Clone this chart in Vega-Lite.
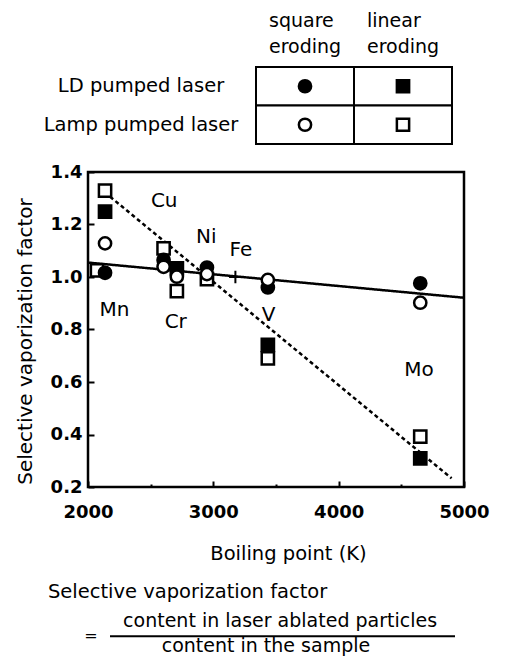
{
  "$schema": "https://vega.github.io/schema/vega-lite/v6.json",
  "width": 376,
  "height": 315,
  "autosize": {"type": "none"},
  "padding": {"left": 88, "top": 172, "right": 41, "bottom": 170},
  "background": "white",
  "config": {
    "view": {"stroke": "black", "strokeWidth": 2.5},
    "font": "DejaVu Sans",
    "text": {"font": "DejaVu Sans", "color": "black"},
    "axis": {
      "labelFont": "DejaVu Sans",
      "labelFontWeight": "bold",
      "labelFontSize": 18,
      "labelColor": "black",
      "labelFlush": false,
      "titleFont": "DejaVu Sans",
      "titleFontWeight": "normal",
      "titleFontSize": 19.5,
      "titleColor": "black",
      "domain": false,
      "grid": false,
      "tickColor": "black",
      "tickWidth": 2
    }
  },
  "datasets": {
    "measurements": [
      {"laser": "Lamp pumped laser", "erosion": "linear eroding", "boiling": 2072, "factor": 1.025},
      {"laser": "Lamp pumped laser", "erosion": "linear eroding", "boiling": 2136, "factor": 1.329},
      {"laser": "Lamp pumped laser", "erosion": "linear eroding", "boiling": 2603, "factor": 1.109},
      {"laser": "Lamp pumped laser", "erosion": "linear eroding", "boiling": 2709, "factor": 0.946},
      {"laser": "Lamp pumped laser", "erosion": "linear eroding", "boiling": 2949, "factor": 0.992},
      {"laser": "Lamp pumped laser", "erosion": "linear eroding", "boiling": 3435, "factor": 0.690},
      {"laser": "Lamp pumped laser", "erosion": "linear eroding", "boiling": 4651, "factor": 0.392},
      {"laser": "LD pumped laser", "erosion": "linear eroding", "boiling": 2136, "factor": 1.249},
      {"laser": "LD pumped laser", "erosion": "linear eroding", "boiling": 2709, "factor": 1.033},
      {"laser": "LD pumped laser", "erosion": "linear eroding", "boiling": 3435, "factor": 0.741},
      {"laser": "LD pumped laser", "erosion": "linear eroding", "boiling": 4651, "factor": 0.309},
      {"laser": "LD pumped laser", "erosion": "square eroding", "boiling": 2136, "factor": 1.016},
      {"laser": "LD pumped laser", "erosion": "square eroding", "boiling": 2603, "factor": 1.065},
      {"laser": "LD pumped laser", "erosion": "square eroding", "boiling": 2949, "factor": 1.036},
      {"laser": "LD pumped laser", "erosion": "square eroding", "boiling": 3435, "factor": 0.960},
      {"laser": "LD pumped laser", "erosion": "square eroding", "boiling": 4651, "factor": 0.976},
      {"laser": "Lamp pumped laser", "erosion": "square eroding", "boiling": 2136, "factor": 1.128},
      {"laser": "Lamp pumped laser", "erosion": "square eroding", "boiling": 2603, "factor": 1.039},
      {"laser": "Lamp pumped laser", "erosion": "square eroding", "boiling": 2709, "factor": 1.001},
      {"laser": "Lamp pumped laser", "erosion": "square eroding", "boiling": 2949, "factor": 1.011},
      {"laser": "Lamp pumped laser", "erosion": "square eroding", "boiling": 3435, "factor": 0.989},
      {"laser": "Lamp pumped laser", "erosion": "square eroding", "boiling": 4651, "factor": 0.902}
    ],
    "fits": [
      {"erosion": "square eroding", "boiling": 2000, "factor": 1.055},
      {"erosion": "square eroding", "boiling": 5000, "factor": 0.921},
      {"erosion": "linear eroding", "boiling": 2176, "factor": 1.306},
      {"erosion": "linear eroding", "boiling": 4901, "factor": 0.233}
    ],
    "reference": [
      {"element": "Fe", "boiling": 3176, "factor": 1.0}
    ],
    "elements": [
      {"element": "Cu", "boiling": 2608, "factor": 1.291},
      {"element": "Ni", "boiling": 2944, "factor": 1.154},
      {"element": "Fe", "boiling": 3220, "factor": 1.103},
      {"element": "Mn", "boiling": 2212, "factor": 0.876},
      {"element": "Cr", "boiling": 2700, "factor": 0.827},
      {"element": "V", "boiling": 3440, "factor": 0.857},
      {"element": "Mo", "boiling": 4640, "factor": 0.644}
    ],
    "legendCells": [
      {"laser": "LD pumped laser", "erosion": "square eroding"},
      {"laser": "LD pumped laser", "erosion": "linear eroding"},
      {"laser": "Lamp pumped laser", "erosion": "square eroding"},
      {"laser": "Lamp pumped laser", "erosion": "linear eroding"}
    ],
    "formula": [
      {"part": "name", "text": "Selective vaporization factor"},
      {"part": "equals", "text": "="},
      {"part": "numerator", "text": "content in laser ablated particles"},
      {"part": "denominator", "text": "content in the sample"}
    ]
  },
  "resolve": {
    "scale": {"x": "independent", "y": "independent"},
    "axis": {"x": "independent", "y": "independent"}
  },
  "layer": [
    {
      "encoding": {
        "x": {
          "field": "boiling", "type": "quantitative",
          "scale": {"domain": [2000, 5000], "nice": false, "zero": false},
          "axis": {
            "title": "Boiling point (K)",
            "values": [2000, 2500, 3000, 3500, 4000, 4500, 5000],
            "format": "d",
            "labelExpr": "datum.value % 1000 === 0 ? datum.label : ''",
            "tickSize": {"condition": {"test": "datum.value % 1000 === 0", "value": -6}, "value": -3},
            "labelPadding": 22,
            "titlePadding": 23,
            "titleX": 200
          }
        },
        "y": {
          "field": "factor", "type": "quantitative",
          "scale": {"domain": [0.2, 1.4], "nice": false, "zero": false},
          "axis": {
            "title": "Selective vaporization factor",
            "titleFontSize": 20,
            "values": [0.2, 0.4, 0.6, 0.8, 1.0, 1.2, 1.4],
            "format": ".1f",
            "tickSize": -6,
            "labelPadding": 12,
            "titlePadding": 15,
            "titleY": 169
          }
        }
      },
      "layer": [
        {
          "data": {"name": "fits"},
          "mark": {"type": "line", "color": "black", "strokeWidth": 2.5},
          "encoding": {
            "detail": {"field": "erosion"},
            "strokeDash": {
              "field": "erosion", "type": "nominal",
              "scale": {"domain": ["square eroding", "linear eroding"], "range": [[1, 0], [4, 3]]},
              "legend": null
            }
          }
        },
        {
          "data": {"name": "reference"},
          "mark": {"type": "point", "shape": "M-1,0H1M0,-1V1", "size": 160, "stroke": "black", "strokeWidth": 2, "opacity": 1}
        },
        {
          "data": {"name": "measurements"},
          "mark": {"type": "point", "filled": true, "stroke": "black", "strokeWidth": 2.5, "opacity": 1, "size": 150},
          "encoding": {
            "shape": {
              "field": "erosion", "type": "nominal",
              "scale": {"domain": ["square eroding", "linear eroding"], "range": ["circle", "square"]},
              "legend": null
            },
            "fill": {
              "field": "laser", "type": "nominal",
              "scale": {"domain": ["LD pumped laser", "Lamp pumped laser"], "range": ["black", "white"]},
              "legend": null
            }
          }
        },
        {
          "data": {"name": "elements"},
          "mark": {"type": "text", "fontSize": 20, "align": "center", "baseline": "middle"},
          "encoding": {"text": {"field": "element"}}
        }
      ]
    },
    {
      "data": {"name": "legendCells"},
      "encoding": {
        "x": {
          "field": "erosion", "type": "nominal",
          "scale": {"type": "band", "domain": ["square eroding", "linear eroding"], "range": [168, 364], "paddingInner": 0, "paddingOuter": 0},
          "axis": null
        },
        "y": {
          "field": "laser", "type": "nominal",
          "scale": {"type": "band", "domain": ["LD pumped laser", "Lamp pumped laser"], "range": [-105, -28], "paddingInner": 0, "paddingOuter": 0},
          "axis": null
        }
      },
      "layer": [
        {"mark": {"type": "rect", "fill": "white", "stroke": "black", "strokeWidth": 2}},
        {
          "mark": {"type": "point", "filled": true, "stroke": "black", "strokeWidth": 2.5, "opacity": 1, "size": 150},
          "encoding": {
            "shape": {"field": "erosion", "type": "nominal", "legend": null},
            "fill": {"field": "laser", "type": "nominal", "legend": null}
          }
        },
        {
          "transform": [{"filter": "datum.laser === 'LD pumped laser'"}],
          "mark": {"type": "text", "fontSize": 19, "align": "left", "baseline": "alphabetic", "lineBreak": " ", "lineHeight": 26, "dx": 13, "dy": -40},
          "encoding": {
            "x": {"field": "erosion", "type": "nominal", "bandPosition": 0, "axis": null},
            "y": {"field": "laser", "type": "nominal", "bandPosition": 0, "axis": null},
            "text": {"field": "erosion"}
          }
        },
        {
          "transform": [{"filter": "datum.erosion === 'square eroding'"}],
          "mark": {"type": "text", "fontSize": 19.5, "align": "center", "baseline": "middle", "dx": -115},
          "encoding": {
            "x": {"field": "erosion", "type": "nominal", "bandPosition": 0, "axis": null},
            "text": {"field": "laser"}
          }
        }
      ]
    },
    {
      "data": {"name": "formula"},
      "layer": [
        {
          "transform": [{"filter": "datum.part === 'name'"}],
          "mark": {"type": "text", "fontSize": 19.5, "align": "left", "baseline": "alphabetic"},
          "encoding": {
            "x": {"datum": -0.18, "type": "quantitative", "scale": {"domain": [0, 1], "range": [22, 367]}, "axis": null},
            "y": {"datum": 0, "type": "quantitative", "scale": {"domain": [0, 1], "range": [426, 480]}, "axis": null},
            "text": {"field": "text"}
          }
        },
        {
          "transform": [{"filter": "datum.part === 'equals'"}],
          "mark": {"type": "text", "fontSize": 16, "align": "center", "baseline": "middle"},
          "encoding": {
            "x": {"datum": -0.055, "type": "quantitative", "axis": null},
            "y": {"datum": 0.71, "type": "quantitative", "axis": null},
            "text": {"field": "text"}
          }
        },
        {
          "transform": [{"filter": "datum.part === 'numerator'"}],
          "mark": {"type": "text", "fontSize": 19, "align": "center", "baseline": "alphabetic"},
          "encoding": {
            "x": {"datum": 0.493, "type": "quantitative", "axis": null},
            "y": {"datum": 0.535, "type": "quantitative", "axis": null},
            "text": {"field": "text"}
          }
        },
        {
          "transform": [{"filter": "datum.part === 'denominator'"}],
          "mark": {"type": "text", "fontSize": 19, "align": "center", "baseline": "alphabetic"},
          "encoding": {
            "x": {"datum": 0.452, "type": "quantitative", "axis": null},
            "y": {"datum": 1, "type": "quantitative", "axis": null},
            "text": {"field": "text"}
          }
        },
        {
          "transform": [{"filter": "datum.part === 'numerator'"}],
          "mark": {"type": "rule", "color": "black", "strokeWidth": 2},
          "encoding": {
            "x": {"datum": 0, "type": "quantitative", "axis": null},
            "x2": {"datum": 1},
            "y": {"datum": 0.71, "type": "quantitative", "axis": null}
          }
        }
      ]
    }
  ]
}
